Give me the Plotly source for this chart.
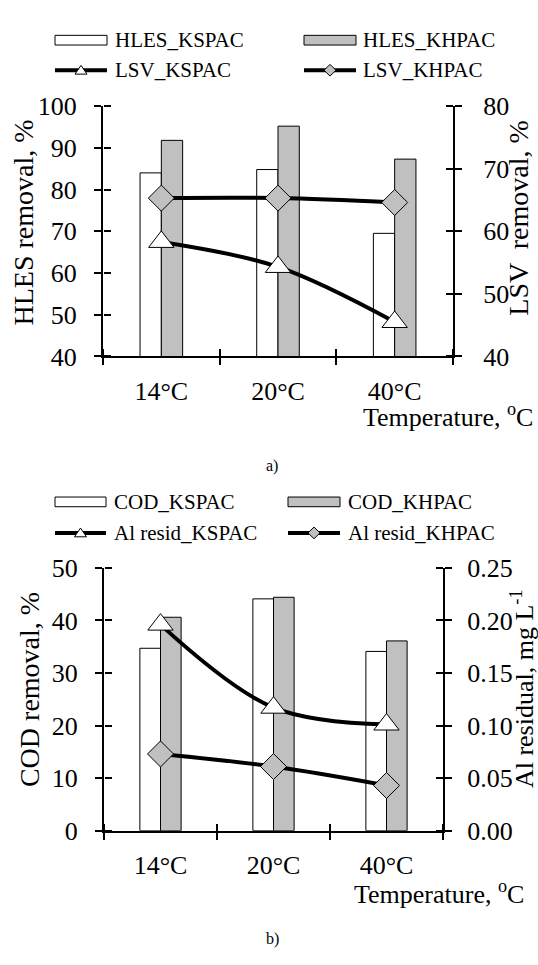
import plotly.graph_objects as go

# ---------------- data ----------------
categories = ["14°C", "20°C", "40°C"]

hles_kspac = [84.0, 84.8, 69.5]
hles_khpac = [91.8, 95.2, 87.3]
lsv_kspac = [58.3, 54.3, 45.5]
lsv_khpac = [65.3, 65.3, 64.6]

cod_kspac = [34.7, 44.1, 34.1]
cod_khpac = [40.6, 44.4, 36.1]
al_kspac = [0.196, 0.117, 0.101]
al_khpac = [0.073, 0.061, 0.043]

W, H = 538, 965
FONT = "Liberation Serif, Times New Roman, serif"
GREY = "#c0c0c0"
TL = 7
INLEN = 7
INCOL = "black"


def px(x):
    return x / W


def py(y):
    return 1 - y / H


fig = go.Figure()

# ---------- top chart ----------
fig.add_trace(go.Bar(x=categories, y=hles_kspac, name="HLES_KSPAC", xaxis="x", yaxis="y",
                     marker=dict(color="white", line=dict(color="black", width=1)), showlegend=False))
fig.add_trace(go.Bar(x=categories, y=hles_khpac, name="HLES_KHPAC", xaxis="x", yaxis="y",
                     marker=dict(color=GREY, line=dict(color="black", width=1)), showlegend=False))
fig.add_trace(go.Scatter(x=categories, y=lsv_kspac, name="LSV_KSPAC", xaxis="x", yaxis="y2",
                         mode="lines+markers", line=dict(color="black", width=4, shape="spline"),
                         marker=dict(symbol="triangle-up", size=22, color="white",
                                     line=dict(color="black", width=1)), showlegend=False))
fig.add_trace(go.Scatter(x=categories, y=lsv_khpac, name="LSV_KHPAC", xaxis="x", yaxis="y2",
                         mode="lines+markers", line=dict(color="black", width=4, shape="spline"),
                         marker=dict(symbol="diamond", size=20, color=GREY,
                                     line=dict(color="black", width=1)), showlegend=False))

# ---------- bottom chart ----------
fig.add_trace(go.Bar(x=categories, y=cod_kspac, name="COD_KSPAC", xaxis="x2", yaxis="y3",
                     marker=dict(color="white", line=dict(color="black", width=1)), showlegend=False))
fig.add_trace(go.Bar(x=categories, y=cod_khpac, name="COD_KHPAC", xaxis="x2", yaxis="y3",
                     marker=dict(color=GREY, line=dict(color="black", width=1)), showlegend=False))
fig.add_trace(go.Scatter(x=categories, y=al_kspac, name="Al resid_KSPAC", xaxis="x2", yaxis="y4",
                         mode="lines+markers", line=dict(color="black", width=4, shape="spline"),
                         marker=dict(symbol="triangle-up", size=22, color="white",
                                     line=dict(color="black", width=1)), showlegend=False))
fig.add_trace(go.Scatter(x=categories, y=al_khpac, name="Al resid_KHPAC", xaxis="x2", yaxis="y4",
                         mode="lines+markers", line=dict(color="black", width=4, shape="spline"),
                         marker=dict(symbol="diamond", size=20, color=GREY,
                                     line=dict(color="black", width=1)), showlegend=False))

# empty helper traces so the inner-tick overlay axes are rendered
for xa, ya in [("x3", "y"), ("x", "y5"), ("x", "y6"), ("x4", "y3"), ("x2", "y7"), ("x2", "y8")]:
    fig.add_trace(go.Scatter(x=[None], y=[None], xaxis=xa, yaxis=ya, mode="markers",
                             showlegend=False, hoverinfo="skip"))

tickfont = dict(family=FONT, size=26, color="black")

top_x = [px(103), px(453)]
top_y = [py(353), py(95)]
bot_x = [px(104), px(443)]
bot_y = [py(842), py(571)]


def xcat(domain, anchor):
    return dict(domain=domain, anchor=anchor, type="category", range=[-0.5, 2.5],
                tickson="boundaries", ticks="outside", ticklen=TL, tickwidth=1.5, tickcolor="black",
                showline=True, linecolor="black", linewidth=2, showgrid=False, zeroline=False,
                tickfont=tickfont, ticklabelstandoff=10, fixedrange=True)


def xin(overlay, position):
    # inner half of the crossing ticks: overlay axis on the opposite side of the same line
    return dict(overlaying=overlay, anchor="free", position=position, side="top",
                range=[-0.5, 2.5], type="linear",
                tickvals=[-0.5, 0.5, 1.5, 2.5], ticks="outside", ticklen=INLEN, tickwidth=1.5,
                tickcolor=INCOL, showticklabels=False, showline=False, showgrid=False,
                zeroline=False)


def yax(domain, anchor, rng, dtick, side, standoff, fmt=None, overlay=None):
    d = dict(domain=domain, anchor=anchor, range=rng, dtick=dtick, side=side,
             ticks="outside", ticklen=TL, tickwidth=1.5, tickcolor="black",
             showline=True, linecolor="black", linewidth=2, showgrid=False, zeroline=False,
             tickfont=tickfont, ticklabelstandoff=standoff)
    if fmt:
        d["tickformat"] = fmt
    if overlay:
        d["overlaying"] = overlay
        d.pop("domain")
    return d


def yin(overlay, position, rng, dtick, side):
    return dict(overlaying=overlay, anchor="free", position=position, range=rng, dtick=dtick,
                side=side, ticks="outside", ticklen=INLEN, tickwidth=1.5, tickcolor=INCOL,
                showticklabels=False, showline=False, showgrid=False, zeroline=False)


fig.update_layout(
    width=W, height=H,
    margin=dict(l=0, r=0, t=0, b=0),
    paper_bgcolor="white", plot_bgcolor="white",
    font=dict(family=FONT, color="black"),
    barmode="group", bargap=0.635, bargroupgap=0,
    showlegend=False,
    xaxis=xcat(top_x, "y"),
    yaxis=yax(top_y, "x", [40, 100], 10, "left", 12),
    yaxis2=yax(None, "x", [40, 80], 10, "right", 16, overlay="y"),
    xaxis2=xcat(bot_x, "y3"),
    yaxis3=yax(bot_y, "x2", [0, 50], 10, "left", 12),
    yaxis4=yax(None, "x2", [0, 0.25], 0.05, "right", 10, fmt=".2f", overlay="y3"),
    xaxis3=xin("x", top_y[0]),
    yaxis5=yin("y", top_x[0], [40, 100], 10, "right"),
    yaxis6=yin("y", top_x[1], [40, 80], 10, "left"),
    xaxis4=xin("x2", bot_y[0]),
    yaxis7=yin("y3", bot_x[0], [0, 50], 10, "right"),
    yaxis8=yin("y3", bot_x[1], [0, 0.25], 0.05, "left"),
)

annotations = []
shapes = []


def title(text, x, y, angle=0, xanchor="center", size=28):
    annotations.append(dict(text=text, x=px(x), y=py(y), xref="paper", yref="paper",
                            xanchor=xanchor, yanchor="middle", textangle=angle, showarrow=False,
                            font=dict(family=FONT, size=size, color="black")))


title("HLES removal, %", 24, 215, -90)
title("LSV  removal, %", 519, 211, -90)
title("Temperature, <sup>o</sup>C", 535, 414, 0, "right", 26)
title("a)", 272, 466, 0, "center", 16)

title("COD removal, %", 29, 697, -90)
title("Al residual, mg L<sup>-1</sup>", 522, 696, -90, "center", 26)
title("Temperature, <sup>o</sup>C", 526, 906, 0, "right", 26)
title("b)", 272, 954, 0, "center", 16)


def leg_bar(x0, x1, y, fill, label, tx):
    shapes.append(dict(type="rect", xref="paper", yref="paper", x0=px(x0), x1=px(x1),
                       y0=py(y + 5), y1=py(y - 5), fillcolor=fill,
                       line=dict(color="black", width=1)))
    annotations.append(dict(text=label, x=px(tx), y=py(y), xref="paper", yref="paper",
                            xanchor="left", yanchor="middle", showarrow=False,
                            font=dict(family=FONT, size=21, color="black")))


def leg_line(x0, x1, y, sym, label, tx):
    shapes.append(dict(type="line", xref="paper", yref="paper", x0=px(x0), x1=px(x1),
                       y0=py(y), y1=py(y), line=dict(color="black", width=4)))
    cx = (x0 + x1) / 2
    if sym == "tri":
        path = (f"M {px(cx)},{py(y - 5)} L {px(cx + 6)},{py(y + 4)} "
                f"L {px(cx - 6)},{py(y + 4)} Z")
        fill = "white"
    else:
        path = (f"M {px(cx)},{py(y - 6)} L {px(cx + 6)},{py(y)} "
                f"L {px(cx)},{py(y + 6)} L {px(cx - 6)},{py(y)} Z")
        fill = GREY
    shapes.append(dict(type="path", xref="paper", yref="paper", path=path, fillcolor=fill,
                       line=dict(color="black", width=1)))
    annotations.append(dict(text=label, x=px(tx), y=py(y), xref="paper", yref="paper",
                            xanchor="left", yanchor="middle", showarrow=False,
                            font=dict(family=FONT, size=21, color="black")))


leg_bar(55, 107, 27, "white", "HLES_KSPAC", 113)
leg_bar(304, 356, 27, GREY, "HLES_KHPAC", 361)
leg_line(55, 107, 58, "tri", "LSV_KSPAC", 113)
leg_line(304, 356, 58, "dia", "LSV_KHPAC", 361)

leg_bar(55, 106, 503, "white", "COD_KSPAC", 112)
leg_bar(288, 340, 503, GREY, "COD_KHPAC", 346)
leg_line(55, 106, 535, "tri", "Al resid_KSPAC", 112)
leg_line(288, 340, 535, "dia", "Al resid_KHPAC", 346)

fig.update_layout(annotations=annotations, shapes=shapes)

fig.write_html("out.html")
